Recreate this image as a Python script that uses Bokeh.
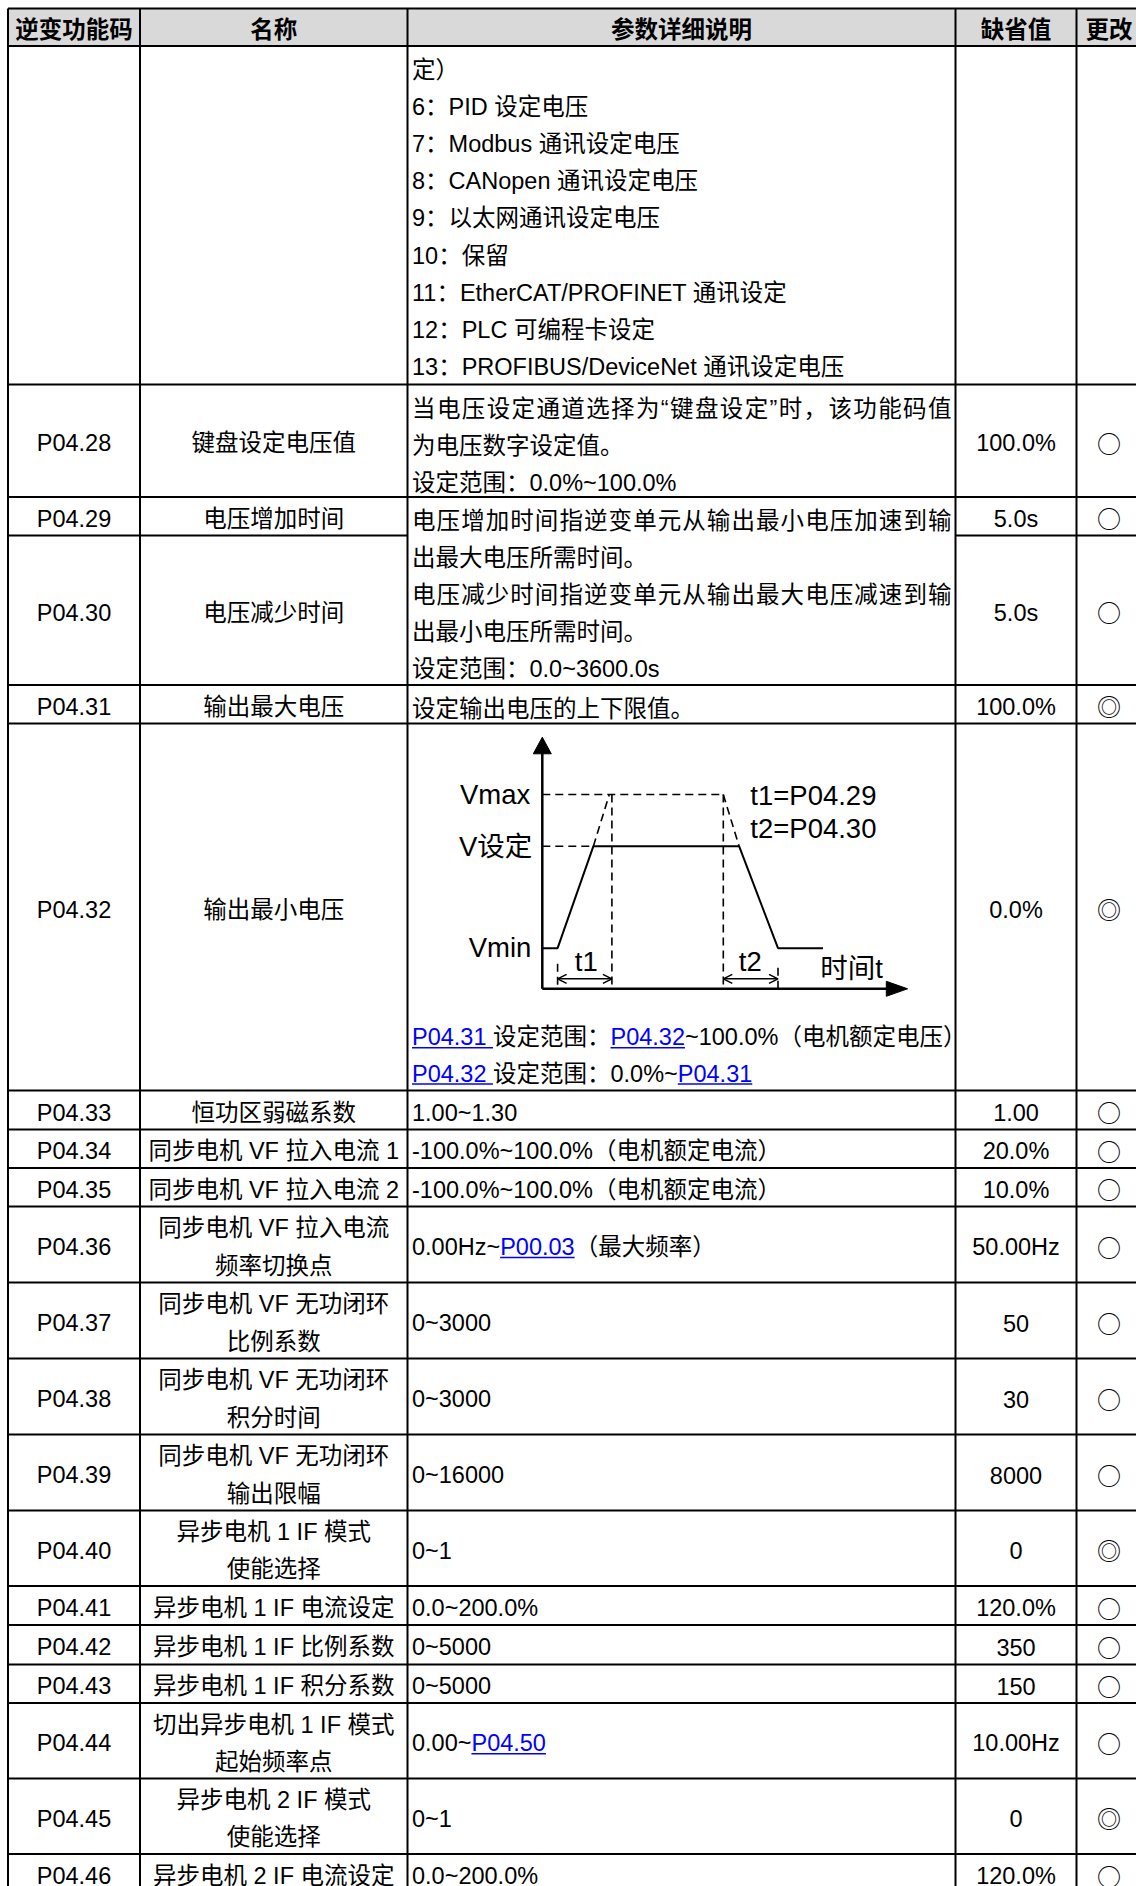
from bokeh.plotting import figure
from bokeh.models import Range1d, ColumnDataSource, Arrow, OpenHead
from bokeh.core.properties import value
from bokeh.embed import file_html
from bokeh.resources import INLINE

# ---------------- data ----------------
header_labels = ["逆变功能码", "名称", "参数详细说明", "缺省值", "更改"]

codes = ["", "P04.28", "P04.29", "P04.30", "P04.31", "P04.32", "P04.33", "P04.34", "P04.35",
         "P04.36", "P04.37", "P04.38", "P04.39", "P04.40", "P04.41", "P04.42", "P04.43",
         "P04.44", "P04.45", "P04.46"]

names = [
    [], ["键盘设定电压值"], ["电压增加时间"], ["电压减少时间"], ["输出最大电压"], ["输出最小电压"],
    ["恒功区弱磁系数"], ["同步电机 VF 拉入电流 1"], ["同步电机 VF 拉入电流 2"],
    ["同步电机 VF 拉入电流", "频率切换点"], ["同步电机 VF 无功闭环", "比例系数"],
    ["同步电机 VF 无功闭环", "积分时间"], ["同步电机 VF 无功闭环", "输出限幅"],
    ["异步电机 1 IF 模式", "使能选择"], ["异步电机 1 IF 电流设定"], ["异步电机 1 IF 比例系数"],
    ["异步电机 1 IF 积分系数"], ["切出异步电机 1 IF 模式", "起始频率点"],
    ["异步电机 2 IF 模式", "使能选择"], ["异步电机 2 IF 电流设定"],
]

# {...} marks a hyperlink; None = merged with the cell above
descriptions = [
    ["定）", "6：PID 设定电压", "7：Modbus 通讯设定电压", "8：CANopen 通讯设定电压",
     "9：以太网通讯设定电压", "10：保留", "11：EtherCAT/PROFINET 通讯设定",
     "12：PLC 可编程卡设定", "13：PROFIBUS/DeviceNet 通讯设定电压"],
    ["当电压设定通道选择为“键盘设定”时，该功能码值", "为电压数字设定值。", "设定范围：0.0%~100.0%"],
    ["电压增加时间指逆变单元从输出最小电压加速到输", "出最大电压所需时间。",
     "电压减少时间指逆变单元从输出最大电压减速到输", "出最小电压所需时间。", "设定范围：0.0~3600.0s"],
    None,
    ["设定输出电压的上下限值。"],
    ["{P04.31 }设定范围：{P04.32}~100.0%（电机额定电压）", "{P04.32 }设定范围：0.0%~{P04.31}"],
    ["1.00~1.30"], ["-100.0%~100.0%（电机额定电流）"], ["-100.0%~100.0%（电机额定电流）"],
    ["0.00Hz~{P00.03}（最大频率）"], ["0~3000"], ["0~3000"], ["0~16000"], ["0~1"],
    ["0.0~200.0%"], ["0~5000"], ["0~5000"], ["0.00~{P04.50}"], ["0~1"], ["0.0~200.0%"],
]
# wrapped (justified) lines: (row, line)
justified_lines = [(1, 0), (2, 0), (2, 2)]

defaults = ["", "100.0%", "5.0s", "5.0s", "100.0%", "0.0%", "1.00", "20.0%", "10.0%", "50.00Hz",
            "50", "30", "8000", "0", "120.0%", "350", "150", "10.00Hz", "0", "120.0%"]

changes = ["", "○", "○", "○", "◎", "◎", "○", "○", "○", "○", "○", "○", "○", "◎",
           "○", "○", "○", "○", "◎", "○"]

# voltage / time sketch (t to the right, v upwards, in sketch units)
solid_t = [0, 15.3, 51.1, 196.8, 235.7, 280.7]
solid_v = [40.6, 40.6, 142.6, 142.6, 40.6, 40.6]
dash_t = [[0, 181.0], [0, 51.1], [51.1, 67.0], [181.0, 196.8], [69.6, 69.6], [181.0, 181.0],
          [15.3, 15.3], [235.7, 235.7]]
dash_v = [[194.3, 194.3], [142.6, 142.6], [142.6, 194.3], [194.3, 142.6], [194.3, 0], [194.3, 0],
          [25, 0], [21, 0]]
span_t = [[15.3, 69.6], [181.0, 235.7]]
span_v = [10, 10]
sketch_labels = ["Vmax", "V设定", "Vmin", "t1=P04.29", "t2=P04.30", "t1", "t2", "时间t"]
sketch_label_t = [-12, -10, -11, 208, 208, 44, 208, 278]
sketch_label_v = [194.3, 142.6, 41.5, 193, 160, 27.5, 27.5, 20]
sketch_label_align = ["right", "right", "right", "left", "left", "center", "center", "left"]

# ---------------- layout ----------------
W, H = 1136, 1886
col_edges = [7.5, 139.5, 407, 955, 1076, 1141]
header_top, header_bot = 8, 45.5
row_edges = [45.5, 384, 496.5, 535, 684.5, 723, 1090, 1129, 1167.5, 1206, 1282, 1358, 1434, 1510,
             1585.5, 1624.5, 1664, 1702.5, 1778, 1853.5, 1893]
FS = 23.5
LINE_H = 37.1
TEXT_DY = 2.5
JUSTIFY_RIGHT = 951
FONT = "Liberation Sans, Noto Sans CJK SC"
CJK = "Noto Sans CJK SC"
LINK = "#0000FF"
origin_x, origin_y = 541.8, 988.3

ARIAL = {' ': 278, '-': 333, '.': 278, '/': 278, '%': 889, '~': 584, '=': 584, '“': 333, '”': 333,
         'A': 667, 'B': 667, 'C': 722, 'D': 722, 'E': 667, 'F': 611, 'H': 722, 'I': 278, 'L': 556,
         'M': 833, 'N': 722, 'O': 778, 'P': 667, 'R': 722, 'S': 667, 'T': 611, 'U': 722, 'V': 667,
         'a': 556, 'b': 556, 'c': 500, 'd': 556, 'e': 556, 'h': 556, 'i': 222, 'm': 833, 'n': 556,
         'o': 556, 'p': 556, 'r': 333, 's': 500, 't': 278, 'u': 556, 'v': 500, 'x': 500, 'z': 500}


def text_width(s, size):
    w = 0.0
    for ch in s:
        if ch in ARIAL:
            w += ARIAL[ch] / 1000 * size
        elif ch.isdigit():
            w += 0.556 * size
        else:
            w += size
    return w


def split_links(line):
    segs, cur, link = [], "", False
    for ch in line:
        if ch == "{":
            if cur:
                segs.append((cur, False))
            cur, link = "", True
        elif ch == "}":
            segs.append((cur, True))
            cur, link = "", False
        else:
            cur += ch
    if cur:
        segs.append((cur, link))
    return segs


p = figure(width=W, height=H, x_range=Range1d(0, W), y_range=Range1d(H, 0),
           output_backend="svg", toolbar_location=None, min_border=0)
p.axis.visible = False
p.grid.visible = False
p.outline_line_color = None
p.background_fill_color = "white"

# header band
p.quad(left=[col_edges[0]], right=[col_edges[-1]], top=[header_top], bottom=[header_bot],
       fill_color="#d9d9d9", line_color=None)

# grid lines
gx0, gy0, gx1, gy1 = [], [], [], []
for y in [header_top, header_bot] + row_edges[1:-1]:
    if y == row_edges[3]:  # P04.29 / P04.30 boundary: description cell is merged
        for a, b in [(col_edges[0], col_edges[2]), (col_edges[3], col_edges[-1])]:
            gx0.append(a); gx1.append(b); gy0.append(y); gy1.append(y)
    else:
        gx0.append(col_edges[0]); gx1.append(col_edges[-1]); gy0.append(y); gy1.append(y)
for x in col_edges:
    gx0.append(x); gx1.append(x); gy0.append(header_top); gy1.append(row_edges[-1])
p.segment(x0=gx0, y0=gy0, x1=gx1, y1=gy1, line_color="black", line_width=2)

# header text
hx = [(col_edges[i] + col_edges[i + 1]) / 2 for i in range(5)]
p.text(x=hx, y=[27.5] * 5, text=header_labels, text_font=value(CJK), text_font_style="bold",
       text_font_size="23.5px", text_align="center", text_baseline="middle", text_color="black")

# body text sources
center_src = dict(x=[], y=[], text=[])
left_src = dict(x=[], y=[], text=[])
link_src = dict(x=[], y=[], text=[])
ul = dict(x0=[], x1=[], y=[])
sym_src = dict(x=[], y=[], text=[])

name_cx = (col_edges[1] + col_edges[2]) / 2
desc_x = col_edges[2] + 4.5
for i in range(len(codes)):
    top, bot = row_edges[i], row_edges[i + 1]
    mid = (top + bot) / 2 + TEXT_DY
    if codes[i]:
        center_src["x"].append(hx[0]); center_src["y"].append(mid); center_src["text"].append(codes[i])
    n = len(names[i])
    for k, nm in enumerate(names[i]):
        center_src["x"].append(name_cx)
        center_src["y"].append(mid + (k - (n - 1) / 2) * LINE_H)
        center_src["text"].append(nm)
    if defaults[i]:
        center_src["x"].append(hx[3]); center_src["y"].append(mid); center_src["text"].append(defaults[i])
    if changes[i]:
        sym_src["x"].append(hx[4]); sym_src["y"].append(mid - 1); sym_src["text"].append(changes[i])
    lines = descriptions[i]
    if lines is None:
        continue
    if codes[i] == "P04.32":
        ys = [1090 - 53.3 + k * 36.3 for k in range(len(lines))]
    elif len(lines) > 1 or i <= 4:
        ys = [top + 24 + k * LINE_H for k in range(len(lines))]
    else:
        ys = [mid]
    for li, (line, y) in enumerate(zip(lines, ys)):
        x = desc_x
        if (i, li) in justified_lines:
            natural = text_width(line, FS)
            gap = (JUSTIFY_RIGHT - desc_x - natural) / (len(line) - 1)
            for ch in line:
                left_src["x"].append(x); left_src["y"].append(y); left_src["text"].append(ch)
                x += text_width(ch, FS) + gap
            continue
        for seg, is_link in split_links(line):
            w = text_width(seg, FS)
            src = link_src if is_link else left_src
            src["x"].append(x); src["y"].append(y); src["text"].append(seg)
            if is_link:
                ul["x0"].append(x); ul["x1"].append(x + w); ul["y"].append(y + 10.5)
            x += w

common = dict(text_font=value(FONT), text_font_size="23.5px", text_baseline="middle")
p.text(x="x", y="y", text="text", source=ColumnDataSource(center_src), text_align="center",
       text_color="black", **common)
p.text(x="x", y="y", text="text", source=ColumnDataSource(left_src), text_align="left",
       text_color="black", **common)
p.text(x="x", y="y", text="text", source=ColumnDataSource(link_src), text_align="left",
       text_color=LINK, **common)
p.segment(x0="x0", y0="y", x1="x1", y1="y", source=ColumnDataSource(ul), line_color=LINK,
          line_width=1.5)
p.text(x="x", y="y", text="text", source=ColumnDataSource(sym_src), text_align="center",
       text_color="black", text_font=value(CJK), text_font_size="24px", text_baseline="middle")

# ---------------- sketch ----------------
def sx(t):
    return origin_x + t


def sy(v):
    return origin_y - v


# axes
p.segment(x0=[sx(0), sx(0)], y0=[sy(0), sy(0)], x1=[sx(0), sx(345)], y1=[sy(236), sy(0)],
          line_color="black", line_width=2.5)
p.patches(xs=[[sx(-9), sx(9), sx(0)], [sx(344), sx(344), sx(365.3)]],
          ys=[[sy(235), sy(235), sy(251.6)], [sy(7.5), sy(-7.5), sy(0)]],
          fill_color="black", line_color="black", line_width=1)
# curve
p.line(x=[sx(t) for t in solid_t], y=[sy(v) for v in solid_v], line_color="black", line_width=2)
p.multi_line(xs=[[sx(t) for t in ts] for ts in dash_t], ys=[[sy(v) for v in vs] for vs in dash_v],
             line_color="black", line_width=1.6, line_dash="8 5")
for (ta, tb), v in zip(span_t, span_v):
    p.add_layout(Arrow(x_start=sx(ta), y_start=sy(v), x_end=sx(tb), y_end=sy(v),
                       start=OpenHead(size=9, line_width=1.5), end=OpenHead(size=9, line_width=1.5),
                       line_width=1.5, line_color="black"))
for align in ["left", "center", "right"]:
    idx = [k for k, a in enumerate(sketch_label_align) if a == align]
    p.text(x=[sx(sketch_label_t[k]) for k in idx], y=[sy(sketch_label_v[k]) for k in idx],
           text=[sketch_labels[k] for k in idx], text_align=align, text_baseline="middle",
           text_font=value(FONT), text_font_size="27.5px", text_color="black")

open("out.html", "w").write(file_html(p, INLINE))
